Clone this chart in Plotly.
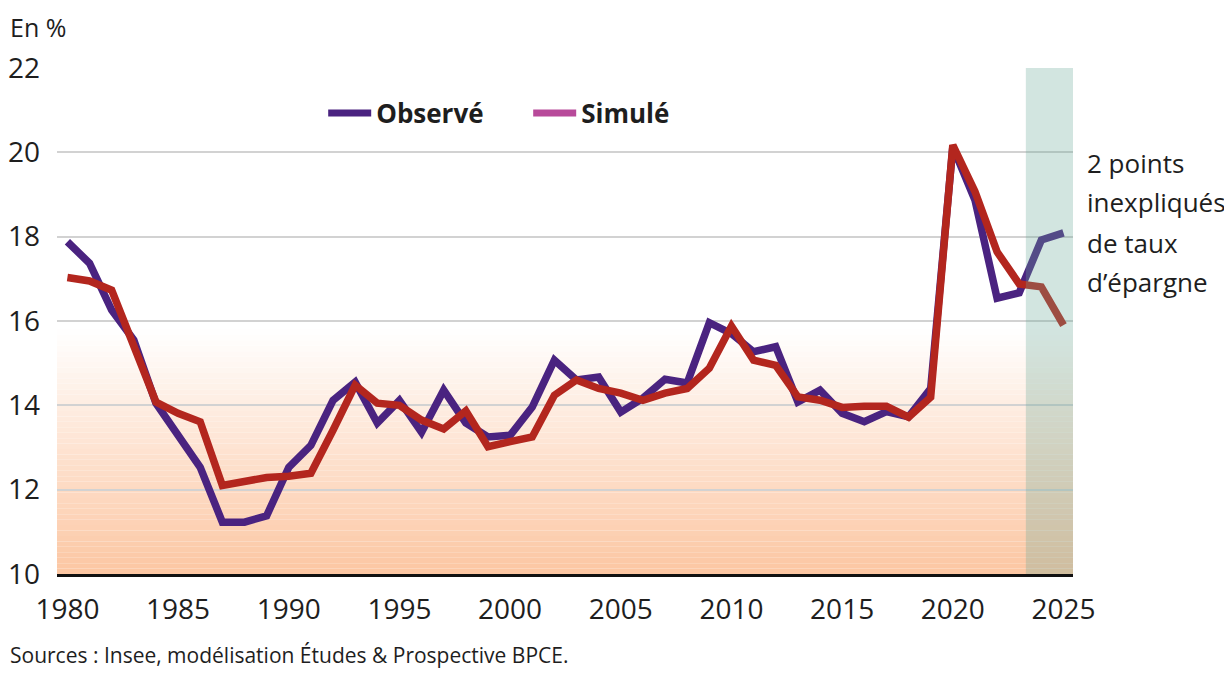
import plotly.graph_objects as go

years = list(range(1980, 2026))

observe = [17.88, 17.37, 16.26, 15.55, 14.05, 13.25, 12.53, 11.23, 11.23, 11.38,
           12.53, 13.05, 14.12, 14.55, 13.58, 14.12, 13.36, 14.36, 13.58, 13.25,
           13.29, 13.96, 15.07, 14.60, 14.67, 13.84, 14.17, 14.62, 14.53, 15.96,
           15.70, 15.27, 15.39, 14.08, 14.36, 13.81, 13.61, 13.85, 13.73, 14.40,
           20.13, 18.87, 16.54, 16.67, 17.92, 18.09]

simule = [17.03, 16.95, 16.73, 15.39, 14.08, 13.81, 13.61, 12.10, 12.19, 12.29,
          12.32, 12.39, 13.41, 14.48, 14.05, 14.00, 13.65, 13.44, 13.87, 13.02,
          13.14, 13.25, 14.24, 14.60, 14.40, 14.29, 14.12, 14.29, 14.40, 14.88,
          15.88, 15.07, 14.95, 14.20, 14.12, 13.95, 13.98, 13.98, 13.72, 14.19,
          20.17, 19.07, 17.64, 16.88, 16.81, 15.90]

series_names = ["Observé", "Simulé"]
x_ticks = [1980, 1985, 1990, 1995, 2000, 2005, 2010, 2015, 2020, 2025]
y_ticks = [10, 12, 14, 16, 18, 20, 22]
note_lines = ["2 points", "inexpliqués", "de taux", "d’épargne"]

PURPLE = "#4A2380"
RED = "#B3261E"
PINK = "#B84A9A"
FONT = "Open Sans"
TXT = "#1e1e1e"

# plot area geometry (page is offset by the 8px body margin)
W, H = 1224, 667
L, R, T, B = 49, 159, 60, 101
PW, PH = W - L - R, H - T - B

fig = go.Figure()

fig.add_trace(go.Scatter(x=years, y=observe, mode="lines", name=series_names[0],
                         line=dict(color=PURPLE, width=7.5), showlegend=False))
fig.add_trace(go.Scatter(x=years, y=simule, mode="lines", name=series_names[1],
                         line=dict(color=RED, width=7.5), showlegend=False))
# legend entries
fig.add_trace(go.Scatter(x=[None], y=[None], mode="lines", name=series_names[0],
                         line=dict(color=PURPLE, width=7)))
fig.add_trace(go.Scatter(x=[None], y=[None], mode="lines", name=series_names[1],
                         line=dict(color=PINK, width=7)))

shapes = []
n = 45
g_top, g_bot = 15.8, 10.0
c_bot = (252, 198, 162)
for i in range(n):
    y0 = g_bot + (g_top - g_bot) * i / n
    y1 = g_bot + (g_top - g_bot) * (i + 1) / n
    f = 1 - (i + 0.5) / n
    r = round(255 + (c_bot[0] - 255) * f)
    g = round(255 + (c_bot[1] - 255) * f)
    b = round(255 + (c_bot[2] - 255) * f)
    shapes.append(dict(type="rect", xref="paper", yref="y", x0=0, x1=1, y0=y0, y1=y1,
                       fillcolor=f"rgb({r},{g},{b})", line=dict(width=0), layer="below"))
shapes.append(dict(type="rect", xref="x", yref="paper", x0=2023.3, x1=2025.43, y0=0, y1=1,
                   fillcolor="rgba(105,168,152,0.30)", line=dict(width=0), layer="above"))

annotations = [
    dict(text="En %", xref="paper", yref="paper", x=-L / PW, y=1 + T / PH,
         xanchor="left", yanchor="top", showarrow=False,
         font=dict(size=25, family=FONT, color=TXT)),
    dict(text="Sources : Insee, modélisation Études & Prospective BPCE.", xref="paper",
         yref="paper", x=-L / PW, y=-81 / PH, xanchor="left", yanchor="middle",
         showarrow=False, font=dict(size=21, family=FONT, color=TXT)),
]
note_y = [163, 202, 243, 282]
for txt, yc in zip(note_lines, note_y):
    annotations.append(dict(text=txt, xref="paper", yref="paper", x=1.012,
                            y=(574 - yc) / PH, xanchor="left", yanchor="middle",
                            align="left", showarrow=False,
                            font=dict(size=26, family=FONT, color=TXT)))

fig.update_layout(
    width=W, height=H,
    margin=dict(l=L, r=R, t=T, b=B, autoexpand=False),
    paper_bgcolor="white", plot_bgcolor="white",
    font=dict(family=FONT, color=TXT, size=28),
    shapes=shapes,
    showlegend=True,
    legend=dict(orientation="h", x=0.262, xanchor="left", y=0.911, yanchor="middle",
                font=dict(family=FONT, size=26, color=TXT, weight="bold"),
                itemwidth=43, entrywidth=147, bgcolor="rgba(0,0,0,0)"),
    xaxis=dict(range=[1979.53, 2025.43], tickvals=x_ticks, ticktext=[str(v) for v in x_ticks],
               showgrid=False, zeroline=False, showline=True, linecolor="#111111", linewidth=3,
               ticks="", ticklabelstandoff=8, automargin=False,
               tickfont=dict(size=28, family=FONT, color=TXT)),
    yaxis=dict(range=[10, 22], tickvals=y_ticks, showgrid=True, gridcolor="#D2D2D2", gridwidth=1.5,
               zeroline=False, showline=False, ticks="", ticklabelstandoff=16, automargin=False,
               tickfont=dict(size=28, family=FONT, color=TXT)),
    annotations=annotations,
)

fig.write_html("out.html")
